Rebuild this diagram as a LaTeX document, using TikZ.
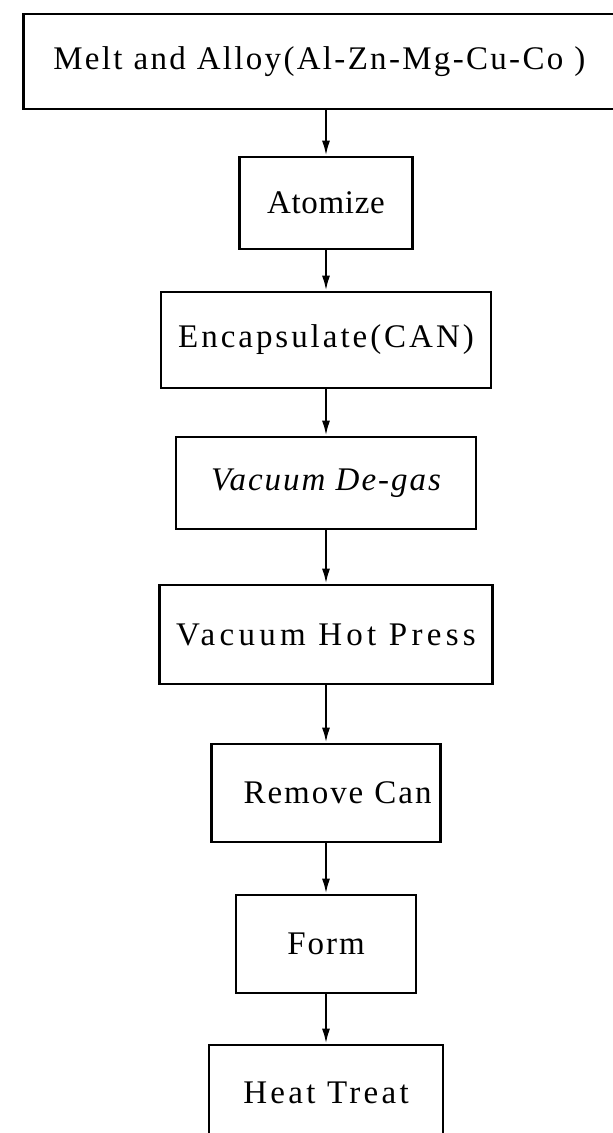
\documentclass[tikz,border=0pt]{standalone}
\usepackage{fontspec}
\setmainfont{Liberation Serif}
\usepackage{tikz}
\usetikzlibrary{arrows.meta, positioning}

\newcommand{\wide}[2]{{\addfontfeature{LetterSpace=#1}#2}}

\tikzset{
    stepbox/.style={draw, line width=2.6pt, inner sep=0pt, minimum height=95pt,
                    font=\fontsize{33}{38}\selectfont},
    flow/.style={line width=2.2pt, -{Latex[length=15pt,width=8pt]}}
}

\begin{document}
\begin{tikzpicture}[x=1pt,y=-1pt]
    \useasboundingbox (0,0) rectangle (613,1133);
    \clip (0,0) rectangle (613,1133);

    \node[stepbox, anchor=west, inner xsep=30pt, text width=580pt, align=left] (melt) at (22,61.5)
        {\wide{7}{Melt and Alloy(Al-Zn-Mg-Cu-Co )}};
    \node[stepbox, minimum width=173pt, minimum height=92pt] (atomize) at (326,203) {\wide{2}{Atomize}};
    \node[stepbox, minimum width=330pt, minimum height=96pt] (encap) at (326,340) {\wide{9}{Encapsulate(CAN)}};
    \node[stepbox, minimum width=300pt, minimum height=92pt] (degas) at (326,483) {\itshape\wide{6}{Vacuum De-gas}};
    \node[stepbox, minimum width=333pt, minimum height=99pt] (press) at (326,634.5) {\wide{13}{Vacuum Hot Press}};
    \node[stepbox, inner xsep=9pt, text width=211pt, align=right, minimum height=98pt] (remove) at (326,793)
        {\wide{6}{Remove Can}};
    \node[stepbox, minimum width=180pt, minimum height=98pt] (form) at (326,944) {\wide{6}{Form}};
    \node[stepbox, minimum width=234pt] (heat) at (326,1092.5) {\wide{10}{Heat Treat}};

    \draw[flow] (melt.south -| atomize.north) -- (atomize.north);
    \draw[flow] (atomize.south) -- (encap.north);
    \draw[flow] (encap.south) -- (degas.north);
    \draw[flow] (degas.south) -- (press.north);
    \draw[flow] (press.south) -- (remove.north);
    \draw[flow] (remove.south) -- (form.north);
    \draw[flow] (form.south) -- (heat.north);

\end{tikzpicture}
\end{document}
